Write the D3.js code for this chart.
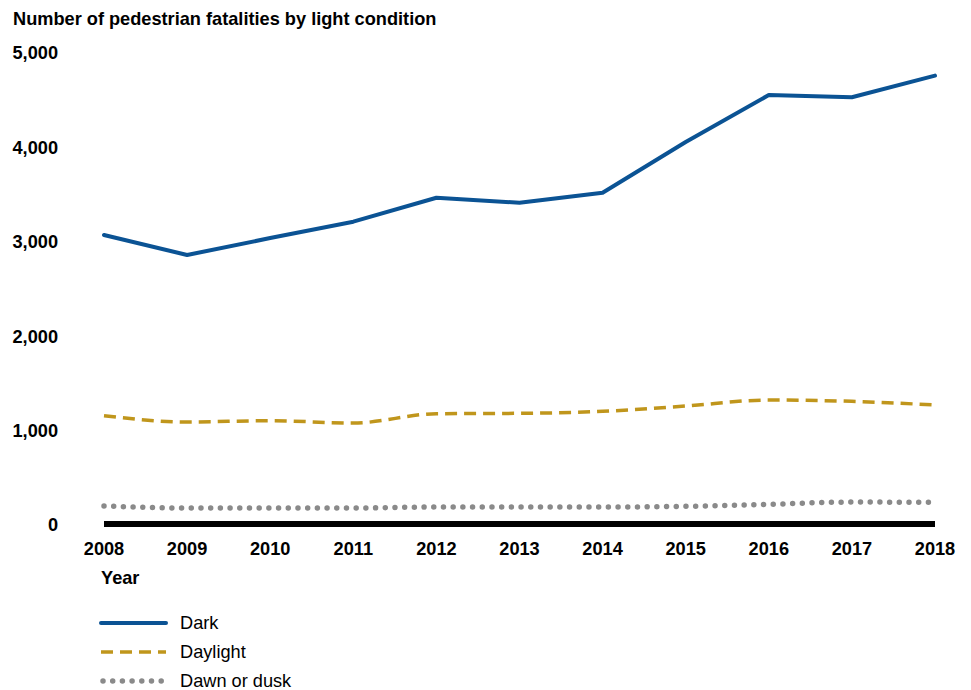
<!DOCTYPE html>
<html>
<head>
<meta charset="utf-8">
<script src="https://cdn.jsdelivr.net/npm/d3@7"></script>
<style>
  body { margin: 0; background: #fff; }
  text { font-family: "Liberation Sans", Arial, sans-serif; fill: #000; }
</style>
</head>
<body>
<div id="chart"></div>
<script>
// data
var years = [2008, 2009, 2010, 2011, 2012, 2013, 2014, 2015, 2016, 2017, 2018];
var dark = [3072, 2860, 3040, 3213, 3467, 3414, 3520, 4057, 4555, 4531, 4760];
var daylight = [1158, 1091, 1105, 1080, 1179, 1183, 1204, 1260, 1324, 1310, 1271];
var dawnDusk = [201, 180, 180, 180, 190, 190, 190, 198, 219, 243, 240];
var yTicks = [0, 1000, 2000, 3000, 4000, 5000];
var seriesNames = ["Dark", "Daylight", "Dawn or dusk"];

var width = 971, height = 690;
var fontSize = "18.2px";

var svg = d3.select("#chart").append("svg")
    .attr("width", width)
    .attr("height", height);

var x = d3.scaleLinear().domain([2008, 2018]).range([104, 935]);
var y = d3.scaleLinear().domain([0, 5000]).range([525, 53]);

// title
svg.append("text")
    .attr("x", 13).attr("y", 25)
    .style("font-size", fontSize).style("font-weight", "bold")
    .text("Number of pedestrian fatalities by light condition");

// y tick labels
svg.append("g").selectAll("text")
    .data(yTicks)
    .enter().append("text")
    .attr("x", 58)
    .attr("y", function(d) { return y(d); })
    .attr("dy", "0.35em")
    .attr("text-anchor", "end")
    .style("font-size", fontSize).style("font-weight", "bold")
    .text(function(d) { return d3.format(",")(d); });

// x tick labels
svg.append("g").selectAll("text")
    .data(years)
    .enter().append("text")
    .attr("x", function(d) { return x(d); })
    .attr("y", 549)
    .attr("dy", "0.35em")
    .attr("text-anchor", "middle")
    .style("font-size", fontSize).style("font-weight", "bold")
    .text(function(d) { return d; });

svg.append("text")
    .attr("x", 101).attr("y", 578).attr("dy", "0.35em")
    .style("font-size", fontSize).style("font-weight", "bold")
    .text("Year");

// series styles
var styles = [
    { color: "#0b5394", width: 4, dash: null, cap: "round", curve: d3.curveLinear },
    { color: "#c0961c", width: 3.5, dash: "12,7", cap: "butt", curve: d3.curveMonotoneX },
    { color: "#8a8a8a", width: 5.5, dash: "0,9.7", cap: "round", curve: d3.curveMonotoneX }
];
var allSeries = [dark, daylight, dawnDusk];

// draw lines, dotted first so others sit on top
[2, 1, 0].forEach(function(i) {
    var st = styles[i];
    var line = d3.line()
        .x(function(d, j) { return x(years[j]); })
        .y(function(d) { return y(d); })
        .curve(st.curve);
    svg.append("path")
        .datum(allSeries[i])
        .attr("d", line)
        .attr("fill", "none")
        .attr("stroke", st.color)
        .attr("stroke-width", st.width)
        .attr("stroke-linecap", st.cap)
        .attr("stroke-linejoin", "round")
        .attr("stroke-dasharray", st.dash);
});

// baseline
svg.append("line")
    .attr("x1", x(2008)).attr("x2", x(2018))
    .attr("y1", y(0) - 1).attr("y2", y(0) - 1)
    .attr("stroke", "#000").attr("stroke-width", 6);

// legend
var legend = svg.append("g");
seriesNames.forEach(function(name, i) {
    var st = styles[i];
    var ly = 623 + i * 29;
    legend.append("line")
        .attr("x1", i == 2 ? 103 : 101).attr("x2", 166)
        .attr("y1", ly).attr("y2", ly)
        .attr("stroke", st.color)
        .attr("stroke-width", st.width)
        .attr("stroke-linecap", st.cap)
        .attr("stroke-dasharray", st.dash);
    legend.append("text")
        .attr("x", 180).attr("y", ly).attr("dy", "0.35em")
        .style("font-size", fontSize)
        .text(name);
});
</script>
</body>
</html>
